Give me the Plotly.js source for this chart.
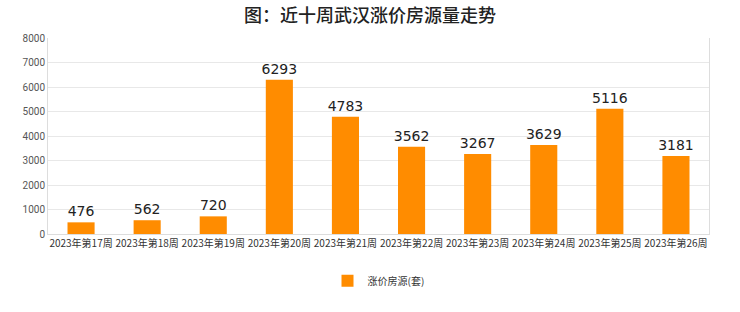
<!DOCTYPE html>
<html><head><meta charset="utf-8">
<script src="https://cdn.plot.ly/plotly-3.0.1.min.js"></script>
<style>html,body{margin:0;padding:0;background:#fff}#c{width:740px;height:312px}</style>
</head><body><div id="c"></div>
<script>
const categories = ["2023年第17周","2023年第18周","2023年第19周","2023年第20周","2023年第21周","2023年第22周","2023年第23周","2023年第24周","2023年第25周","2023年第26周"];
const values = [476, 562, 720, 6293, 4783, 3562, 3267, 3629, 5116, 3181];
const seriesName = "涨价房源(套)";
const yTicks = [0,1000,2000,3000,4000,5000,6000,7000,8000];

Plotly.newPlot('c', [{
  type: 'bar', x: categories, y: values, name: seriesName,
  marker: {color: '#ff8c00'},
  text: values.map(String), textposition: 'outside', cliponaxis: false, constraintext: 'none',
  textfont: {family: 'DejaVu Sans, sans-serif', size: 14, color: '#222'},
  width: 0.41
}], {
  width: 740, height: 312,
  margin: {l: 48, r: 31, t: 38, b: 78},
  paper_bgcolor: '#fff', plot_bgcolor: '#fff',
  title: {text: '图：近十周武汉涨价房源量走势', x: 0.5, xanchor: 'center', yref: 'container', y: 0.95, yanchor: 'middle',
    font: {family: 'Noto Sans CJK SC, sans-serif', size: 18, color: '#222', weight: 500}},
  xaxis: {type: 'category', showgrid: false, showline: true, linecolor: '#ddd', ticks: '',
    tickfont: {family: 'Noto Sans CJK SC, sans-serif', size: 10, color: '#333'}, tickangle: 0, automargin: false},
  yaxis: {range: [0, 8000], tickvals: yTicks, showgrid: true, gridcolor: '#e8e8e8', showline: true, linecolor: '#ddd',
    mirror: true, zeroline: false, ticks: '', tickfont: {family: 'Roboto, sans-serif', size: 10, color: '#555'}, automargin: false},
  showlegend: true,
  legend: {orientation: 'h', x: 0.5, xanchor: 'center', yref: 'container', y: 0.1, yanchor: 'middle',
    font: {family: 'Noto Sans CJK SC, sans-serif', size: 10, color: '#333'}},
  bargap: 0.59
}, {displayModeBar: false, staticPlot: true});
</script></body></html>
